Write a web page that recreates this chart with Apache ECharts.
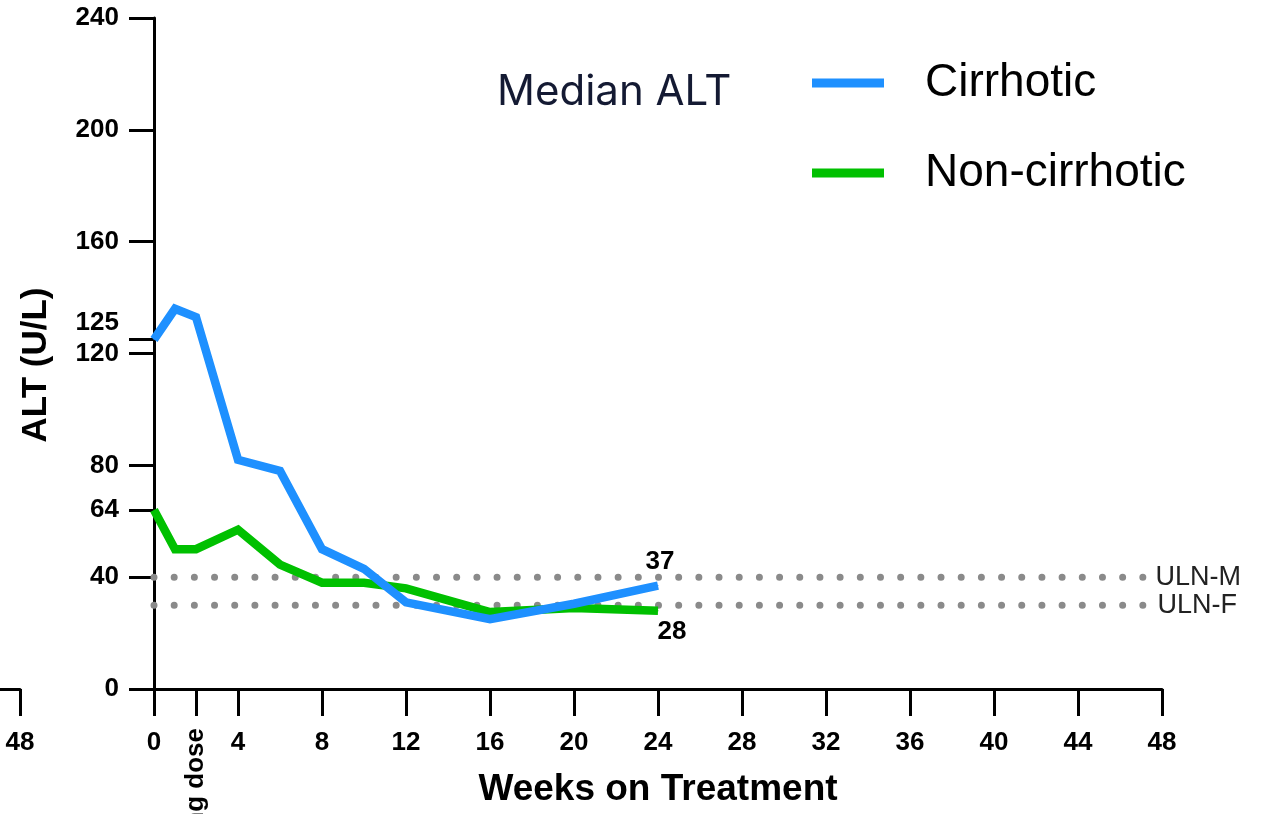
<!DOCTYPE html>
<html>
<head>
<meta charset="utf-8">
<script src="https://cdn.jsdelivr.net/npm/echarts@6/dist/echarts.min.js"></script>
<style>
html,body{margin:0;padding:0;background:#fff;}
#c{width:1273px;height:814px;}
</style>
</head>
<body>
<div id="c"></div>
<script>
// ---- data ----
const weeks = [0, 1, 2, 4, 6, 8, 10, 12, 16, 20, 24];
const cirrhotic = [125, 136, 133, 82, 78, 50, 43, 31, 25, 30.5, 37];
const nonCirrhotic = [64, 50, 50, 57, 44.5, 38, 38, 36, 27.5, 29, 28];
const seriesNames = ['Cirrhotic', 'Non-cirrhotic'];
const ulnM = 40;
const ulnF = 30;
const ulnNames = ['ULN-M', 'ULN-F'];
const ulnExtent = [0, 47.12];
const yTicks = [0, 40, 64, 80, 120, 125, 160, 200, 240];
const xTicks = [0, 2, 4, 8, 12, 16, 20, 24, 28, 32, 36, 40, 44, 48];
const xLabels = [0, 4, 8, 12, 16, 20, 24, 28, 32, 36, 40, 44, 48];
const doseWeek = 2;
const doseLabel = 'Loading dose';
const leftPanelTick = [48];

const FONT = '"Liberation Sans", Arial, sans-serif';
const TICK_FS = 26;
const lastLabel = (arr, lbl) => weeks.map((w, k) => {
  const item = { value: [w, arr[k]] };
  if (k === weeks.length - 1) item.label = Object.assign({ show: true }, lbl);
  return item;
});

const chart = echarts.init(document.getElementById('c'), null, { renderer: 'canvas' });
const axisLineStyle = { color: '#000', width: 3 };
const tickLabel = { fontSize: TICK_FS, fontWeight: 'bold', fontFamily: FONT, color: '#000' };

chart.setOption({
  backgroundColor: '#fff',
  animation: false,
  graphic: [
    { type: 'text', left: 497, top: 71,
      style: { text: 'Median ALT', font: '42px Inter', fill: '#141a33' } },
    { type: 'text', x: 36, y: 365, rotation: Math.PI / 2,
      style: { text: 'ALT (U/L)', font: 'bold 35px "Liberation Sans", Arial', fill: '#000',
               textAlign: 'center', textVerticalAlign: 'middle' } }
  ],
  legend: {
    data: seriesNames,
    orient: 'vertical', left: 812, top: 58, padding: 0,
    itemWidth: 72, itemHeight: 9, itemGap: 40, icon: 'rect',
    textStyle: { fontSize: 46, fontFamily: FONT, color: '#000', lineHeight: 50, padding: [0, 0, 0, 36] }
  },
  grid: [
    { left: 154, top: 18, width: 1008, height: 671, outerBoundsMode: 'none' },
    { left: -988, top: 18, width: 1008, height: 671, outerBoundsMode: 'none' }
  ],
  xAxis: [
    { type: 'value', gridIndex: 0, min: 0, max: 48, position: 'bottom',
      axisLine: { show: true, lineStyle: axisLineStyle },
      axisTick: { show: true, length: 27, lineStyle: axisLineStyle, customValues: xTicks },
      axisLabel: Object.assign({ customValues: xLabels, margin: 41 }, tickLabel),
      splitLine: { show: false },
      name: 'Weeks on Treatment', nameLocation: 'middle', nameGap: 82,
      nameTextStyle: { fontSize: 37, fontWeight: 'bold', fontFamily: FONT, color: '#000' } },
    { type: 'value', gridIndex: 0, min: 0, max: 48, position: 'bottom', offset: 0,
      axisLine: { show: false }, axisTick: { show: false }, splitLine: { show: false },
      axisLabel: Object.assign({ customValues: [doseWeek], rotate: 90, margin: 39, formatter: () => doseLabel }, tickLabel) },
    { type: 'value', gridIndex: 1, min: 0, max: 48, position: 'bottom',
      axisLine: { show: true, lineStyle: axisLineStyle },
      axisTick: { show: true, length: 27, lineStyle: axisLineStyle, customValues: leftPanelTick },
      axisLabel: Object.assign({ customValues: leftPanelTick, margin: 41 }, tickLabel),
      splitLine: { show: false } }
  ],
  yAxis: [
    { type: 'value', gridIndex: 0, min: 0, max: 240,
      axisLine: { show: true, lineStyle: axisLineStyle },
      axisTick: { show: true, length: 25, lineStyle: axisLineStyle, customValues: yTicks },
      axisLabel: Object.assign({ customValues: yTicks, margin: 35,
                   formatter: v => (v === 125 ? '{up|' + v + '}' : String(v)),
                   rich: { up: Object.assign({ padding: [0, 0, 34, 0] }, tickLabel) } }, tickLabel),
      splitLine: { show: false } },
    { type: 'value', gridIndex: 1, min: 0, max: 240, show: false }
  ],
  series: [
    { name: ulnNames[0], type: 'line', xAxisIndex: 0, yAxisIndex: 0, silent: true, z: 1,
      data: ulnExtent.map(x => [x, ulnM]), showSymbol: false, symbol: 'none',
      lineStyle: { color: '#8a8a8a', width: 7, type: [0, 20.18], cap: 'round' },
      endLabel: { show: true, formatter: ulnNames[0], distance: 12, fontSize: 27, fontFamily: FONT, color: '#222' } },
    { name: ulnNames[1], type: 'line', xAxisIndex: 0, yAxisIndex: 0, silent: true, z: 1,
      data: ulnExtent.map(x => [x, ulnF]), showSymbol: false, symbol: 'none',
      lineStyle: { color: '#8a8a8a', width: 7, type: [0, 20.18], cap: 'round' },
      endLabel: { show: true, formatter: ulnNames[1], distance: 14, fontSize: 27, fontFamily: FONT, color: '#222' } },
    { name: seriesNames[1], type: 'line', xAxisIndex: 0, yAxisIndex: 0, z: 3,
      color: '#00C000',
      data: lastLabel(nonCirrhotic, { position: 'bottom', distance: 8, offset: [14, 0], formatter: p => String(p.value[1]) }),
      showSymbol: true, symbol: 'circle', symbolSize: 1,
      itemStyle: { color: '#00C000' },
      lineStyle: { color: '#00C000', width: 8.5, join: 'miter' },
      label: Object.assign({ show: false }, tickLabel) },
    { name: seriesNames[0], type: 'line', xAxisIndex: 0, yAxisIndex: 0, z: 4,
      color: '#1E90FF',
      data: lastLabel(cirrhotic, { position: 'top', distance: 10, offset: [2, 0], formatter: p => String(p.value[1]) }),
      showSymbol: true, symbol: 'circle', symbolSize: 1,
      itemStyle: { color: '#1E90FF' },
      lineStyle: { color: '#1E90FF', width: 8.5, join: 'miter' },
      label: Object.assign({ show: false }, tickLabel) }
  ]
});
</script>
</body>
</html>
